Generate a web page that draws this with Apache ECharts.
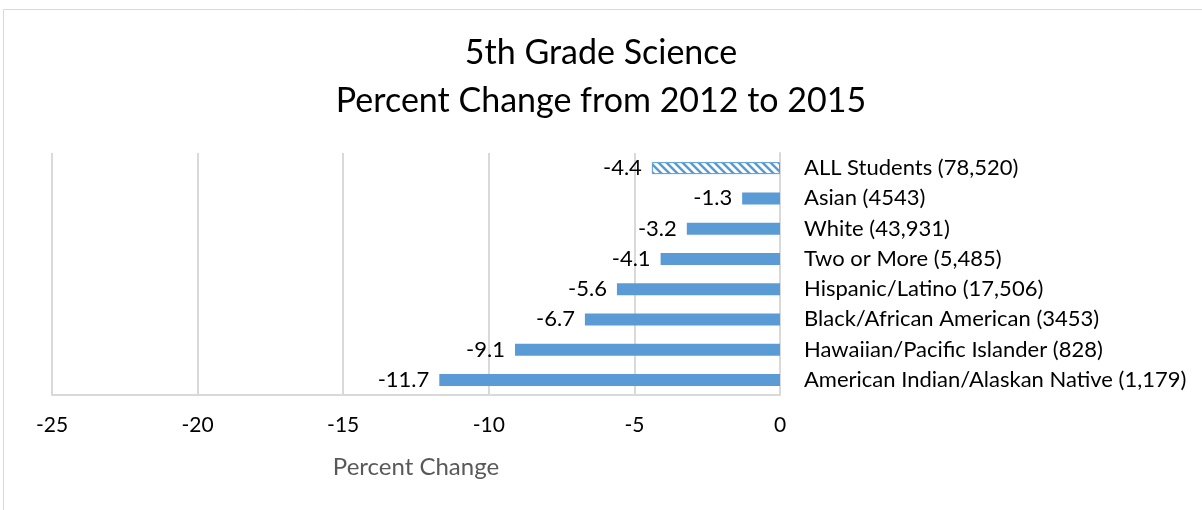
<!DOCTYPE html>
<html>
<head>
<meta charset="utf-8">
<script src="https://cdn.jsdelivr.net/npm/echarts@6/dist/echarts.min.js"></script>
<style>
  html, body { margin: 0; padding: 0; background: #fff; }
  #chart { width: 1202px; height: 510px; }
</style>
</head>
<body>
<div id="chart"></div>
<script>
// categories top to bottom
const categories = [
  'ALL Students (78,520)',
  'Asian (4543)',
  'White (43,931)',
  'Two or More (5,485)',
  'Hispanic/Latino (17,506)',
  'Black/African American (3453)',
  'Hawaiian/Pacific Islander (828)',
  'American Indian/Alaskan Native (1,179)'
]
const values = [-4.4, -1.3, -3.2, -4.1, -5.6, -6.7, -9.1, -11.7]
const xTicks = { min: -25, max: 0, step: 5 }

const blue = '#5b9bd5'
const font = 'Lato, "Open Sans", sans-serif'

// hatched fill for the "ALL Students" bar
function hatch() {
  const c = document.createElement('canvas')
  c.width = 8
  c.height = 8
  const g = c.getContext('2d')
  g.fillStyle = '#fff'
  g.fillRect(0, 0, 8, 8)
  g.strokeStyle = blue
  g.lineWidth = 2.5
  g.beginPath()
  g.moveTo(-2, -2); g.lineTo(10, 10)
  g.moveTo(-6, 2); g.lineTo(6, 14)
  g.moveTo(2, -6); g.lineTo(14, 6)
  g.stroke()
  return c
}

const barData = values.map((v, i) => {
  if (i === 0) {
    return {
      value: v,
      itemStyle: { color: { image: hatch(), repeat: 'repeat' }, borderColor: blue, borderWidth: 1 }
    }
  }
  return v
})

const chart = echarts.init(document.getElementById('chart'))
chart.setOption({
  animation: false,
  title: {
    text: '5th Grade Science\nPercent Change from 2012 to 2015',
    left: 'center',
    top: 24,
    textStyle: { fontFamily: font, fontSize: 34, fontWeight: 'normal', color: '#000', lineHeight: 48 }
  },
  graphic: [{
    type: 'rect',
    shape: { x: 3.5, y: 9.5, width: 1300, height: 600 },
    style: { fill: 'none', stroke: '#d9d9d9', lineWidth: 1 },
    silent: true
  }],
  grid: { left: 52, right: 422, top: 153, bottom: 115 },
  xAxis: {
    type: 'value',
    min: xTicks.min,
    max: xTicks.max,
    interval: xTicks.step,
    name: 'Percent Change',
    nameLocation: 'middle',
    nameGap: 60,
    nameTextStyle: { fontFamily: font, fontSize: 24, color: '#595959' },
    axisLine: { show: true, lineStyle: { color: '#d9d9d9', width: 2 } },
    axisTick: { show: false },
    axisLabel: { fontFamily: font, fontSize: 21, color: '#000', margin: 20 },
    splitLine: { show: true, lineStyle: { color: '#d9d9d9', width: 2 } }
  },
  yAxis: {
    type: 'category',
    data: categories,
    inverse: true,
    position: 'right',
    axisLine: { show: true, lineStyle: { color: '#d9d9d9', width: 2 } },
    axisTick: { show: false },
    axisLabel: { fontFamily: font, fontSize: 22, color: '#000', margin: 24, align: 'left' },
    splitLine: { show: false }
  },
  series: [{
    type: 'bar',
    data: barData,
    barWidth: 12,
    itemStyle: { color: blue },
    label: {
      show: true,
      position: 'left',
      distance: 10,
      fontFamily: font,
      fontSize: 22,
      color: '#000'
    }
  }]
})
</script>
</body>
</html>
